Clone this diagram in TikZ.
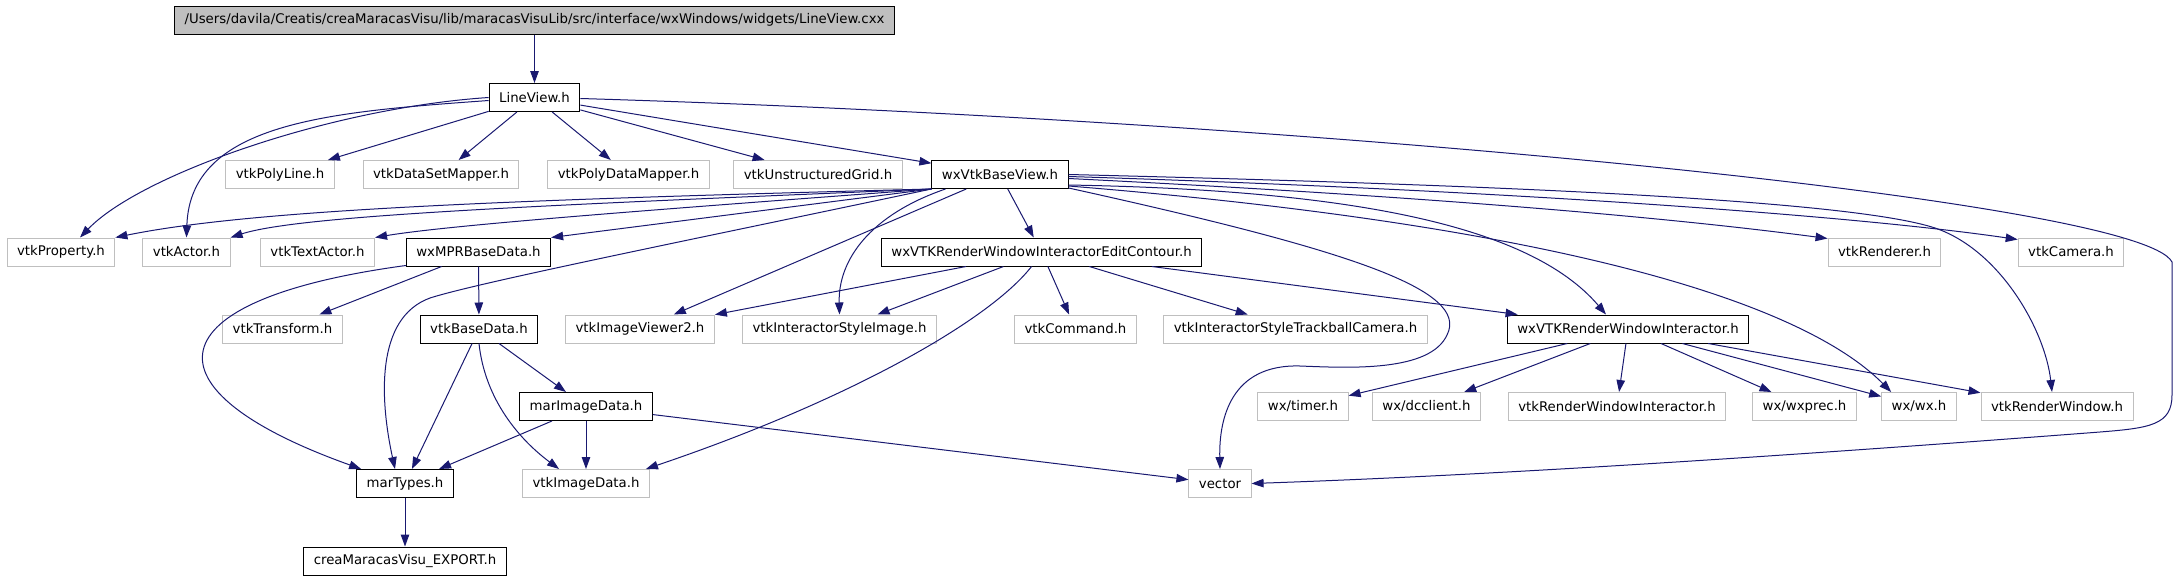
\documentclass[tikz,border=0pt]{standalone}
\usepackage{fontspec}
\setmainfont{DejaVu Sans}
\usetikzlibrary{arrows.meta, calc}
\definecolor{edgeblue}{HTML}{191970}
\definecolor{boxgray}{HTML}{BFBFBF}

\begin{document}
\begin{tikzpicture}[
            x=1pt, y=-1pt,
            file/.style={rectangle, draw=black, line width=1pt, minimum height=28pt,
                inner xsep=10pt, inner ysep=0pt, font=\fontsize{13.3}{15}\selectfont},
            ext/.style={file, draw=boxgray},
            rootfile/.style={file, fill=boxgray},
            dep/.style={draw=edgeblue, line width=1pt, -{Triangle[length=12pt, width=8.5pt]}}
            ]
        \useasboundingbox (0,0) rectangle (2179,581);

        % Knoten
        \node[rootfile] (root) at (534.5,20) {/Users/davila/Creatis/creaMaracasVisu/lib/maracasVisuLib/src/interface/wxWindows/widgets/LineView.cxx};
        \node[file] (lineview) at (534.5,97.5) {LineView.h};

        \node[ext] (vtkpolyline) at (280,174.5) {vtkPolyLine.h};
        \node[ext] (vtkdatasetmapper) at (441,174.5) {vtkDataSetMapper.h};
        \node[ext] (vtkpolydatamapper) at (628.5,174.5) {vtkPolyDataMapper.h};
        \node[ext] (vtkunstructuredgrid) at (818,174.5) {vtkUnstructuredGrid.h};
        \node[file] (wxvtkbaseview) at (1000,174.5) {wxVtkBaseView.h};

        \node[ext] (vtkproperty) at (61,252) {vtkProperty.h};
        \node[ext] (vtkactor) at (186.5,252) {vtkActor.h};
        \node[ext] (vtktextactor) at (317.5,252) {vtkTextActor.h};
        \node[file] (wxmprbasedata) at (478.5,252) {wxMPRBaseData.h};
        \node[file] (editcontour) at (1041.5,252) {wxVTKRenderWindowInteractorEditContour.h};
        \node[ext] (vtkrenderer) at (1884.5,252) {vtkRenderer.h};
        \node[ext] (vtkcamera) at (2071,252) {vtkCamera.h};

        \node[ext] (vtktransform) at (282.5,329) {vtkTransform.h};
        \node[file] (vtkbasedata) at (479,329) {vtkBaseData.h};
        \node[ext] (vtkimageviewer) at (640,329) {vtkImageViewer2.h};
        \node[ext] (vtkstyleimage) at (839.5,329) {vtkInteractorStyleImage.h};
        \node[ext] (vtkcommand) at (1075.5,329) {vtkCommand.h};
        \node[ext] (vtkstyletrackball) at (1295.5,329) {vtkInteractorStyleTrackballCamera.h};
        \node[file] (wxrwi) at (1628,329) {wxVTKRenderWindowInteractor.h};

        \node[file] (marimagedata) at (586,406.5) {marImageData.h};
        \node[ext] (wxtimer) at (1303,406.5) {wx/timer.h};
        \node[ext] (wxdcclient) at (1426.5,406.5) {wx/dcclient.h};
        \node[ext] (vtkrwi) at (1617,406.5) {vtkRenderWindowInteractor.h};
        \node[ext] (wxwxprec) at (1804.5,406.5) {wx/wxprec.h};
        \node[ext] (wxwx) at (1919,406.5) {wx/wx.h};
        \node[ext] (vtkrenderwindow) at (2057,406.5) {vtkRenderWindow.h};

        \node[file] (martypes) at (405,483.5) {marTypes.h};
        \node[ext] (vtkimagedata) at (586,483.5) {vtkImageData.h};
        \node[ext] (vector) at (1220,483.5) {vector};

        \node[file] (export) at (405,561) {creaMaracasVisu\_EXPORT.h};

        % Kanten
        \draw[dep] (root) -- (lineview);

        \draw[dep] (lineview) -- (vtkpolyline);
        \draw[dep] (lineview) -- (vtkdatasetmapper);
        \draw[dep] (lineview) -- (vtkpolydatamapper);
        \draw[dep] (lineview) -- (vtkunstructuredgrid);
        \draw[dep] (lineview) -- (wxvtkbaseview);
        \draw[dep] (lineview.west) .. controls (330,108) and (140,175) .. ($(vtkproperty.north)+(19,0)$);
        \draw[dep] ($(lineview.west)+(0,3)$) .. controls (330,112) and (190,122) .. (vtkactor.north);
        \draw[dep] ($(lineview.east)+(0,1)$) .. controls (1300,120) and (2140,200) .. (2172,262)
            -- (2172,395) .. controls (2172,425) and (2150,428) .. (2100,432)
            .. controls (1800,455) and (1500,475) .. (vector.east);

        \draw[dep] (wxvtkbaseview.south west) .. controls (500,200) and (250,210) .. (vtkproperty.north east);
        \draw[dep] (wxvtkbaseview.south west) .. controls (550,205) and (300,215) .. (vtkactor.north east);
        \draw[dep] (wxvtkbaseview.south west) .. controls (650,210) and (450,225) .. (vtktextactor.north east);
        \draw[dep] (wxvtkbaseview.south west) -- (wxmprbasedata.north east);
        \draw[dep] (wxvtkbaseview.south west) .. controls (700,238) and (480,282) .. (430,298)
            .. controls (375,318) and (380,400) .. ($(martypes.north)+(-10,0)$);
        \draw[dep] (wxvtkbaseview) -- (vtkimageviewer);
        \draw[dep] ($(wxvtkbaseview.south west)+(14,0)$) .. controls (870,215) and (838,260) .. (vtkstyleimage.north);
        \draw[dep] (wxvtkbaseview) -- (editcontour);
        \draw[dep] ($(wxvtkbaseview.south east)+(0,-1)$) .. controls (1350,250) and (1470,290) .. (1447,335)
            .. controls (1430,372) and (1350,368) .. (1300,366)
            .. controls (1230,364) and (1219,420) .. (vector.north);
        \draw[dep] ($(wxvtkbaseview.south east)+(0,-4)$) .. controls (1350,190) and (1530,225) .. ($(wxrwi.north)+(-22,0)$);
        \draw[dep] ($(wxvtkbaseview.south east)+(0,-3)$) .. controls (1550,225) and (1800,300) .. ($(wxwx.north west)+(10,0)$);
        \draw[dep] ($(wxvtkbaseview.east)+(0,4)$) .. controls (1400,195) and (1650,215) .. ($(vtkrenderer.north west)+(0,1)$);
        \draw[dep] ($(wxvtkbaseview.east)+(0,2)$) .. controls (1500,190) and (1850,215) .. ($(vtkcamera.north west)+(0,2)$);
        \draw[dep] (wxvtkbaseview.east) .. controls (1500,185) and (1850,200) .. (1935,228)
            .. controls (2000,250) and (2045,330) .. ($(vtkrenderwindow.north)+(-5,0)$);

        \draw[dep] (wxmprbasedata) -- (vtktransform);
        \draw[dep] (wxmprbasedata) -- (vtkbasedata);
        \draw[dep] ($(wxmprbasedata.south west)+(0,-1)$) .. controls (150,300) and (140,390) .. ($(martypes.north west)+(5,0)$);

        \draw[dep] (editcontour) -- (vtkimageviewer);
        \draw[dep] (editcontour) -- (vtkstyleimage);
        \draw[dep] (editcontour) -- (vtkcommand);
        \draw[dep] (editcontour) -- (vtkstyletrackball);
        \draw[dep] (editcontour) -- (wxrwi);
        \draw[dep] ($(editcontour.south)+(-10,0)$) .. controls (990,320) and (850,400) .. ($(vtkimagedata.north east)+(-4,0)$);

        \draw[dep] (vtkbasedata) -- (martypes);
        \draw[dep] (vtkbasedata.south) .. controls (485,400) and (520,440) .. ($(vtkimagedata.north west)+(37,0)$);
        \draw[dep] (vtkbasedata) -- (marimagedata);

        \draw[dep] (marimagedata) -- (martypes);
        \draw[dep] (marimagedata) -- (vtkimagedata);
        \draw[dep] (marimagedata) -- (vector);

        \draw[dep] (wxrwi) -- (wxtimer);
        \draw[dep] (wxrwi) -- (wxdcclient);
        \draw[dep] (wxrwi) -- (vtkrwi);
        \draw[dep] (wxrwi) -- (wxwxprec);
        \draw[dep] (wxrwi) -- (wxwx);
        \draw[dep] (wxrwi) -- (vtkrenderwindow);

        \draw[dep] (martypes) -- (export);
\end{tikzpicture}
\end{document}
